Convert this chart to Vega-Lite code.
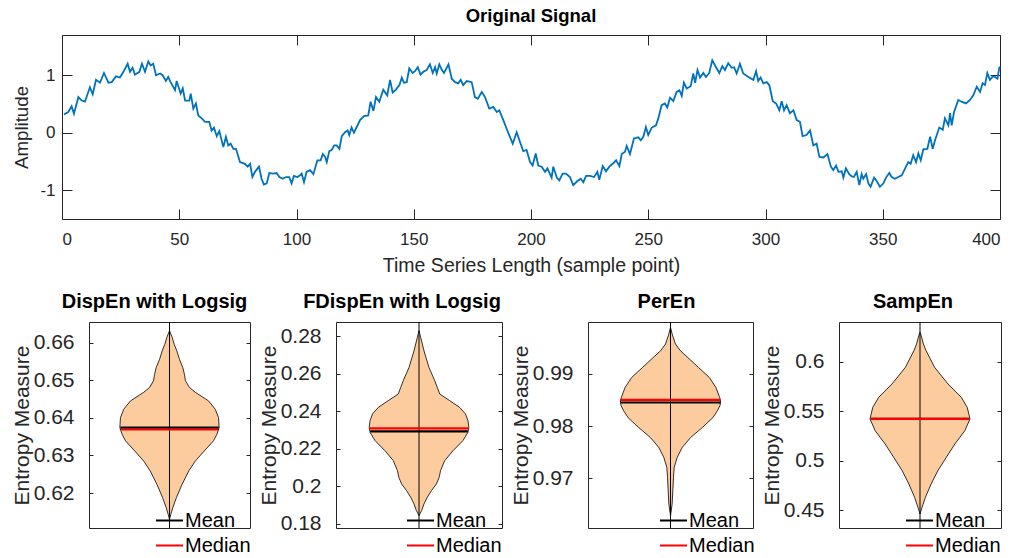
{
  "$schema": "https://vega.github.io/schema/vega-lite/v6.json",
  "padding": {"left": 10, "top": 6, "right": 0, "bottom": 0},
  "config": {
    "font": "Liberation Sans",
    "view": {"stroke": "#262626", "strokeWidth": 1},
    "axis": {"grid": false, "domain": false, "labelColor": "#262626", "tickColor": "#262626", "titleColor": "#262626", "titleFontWeight": "normal", "labelFont": "Liberation Sans", "titleFont": "Liberation Sans"},
    "title": {"fontWeight": "bold", "color": "black", "font": "Liberation Sans"},
    "legend": {"orient": "none", "title": null, "symbolType": "stroke", "symbolSize": 729, "symbolStrokeWidth": 2, "labelFontSize": 20, "labelFont": "Liberation Sans", "labelColor": "black", "labelOffset": 1, "rowPadding": 0, "padding": 0, "legendY": 184}
  },
  "concat": [
    {
      "width": 938,
      "height": 184,
      "title": {"text": "Original Signal", "fontSize": 18.5, "offset": 9},
      "data": {"name": "signal"},
      "layer": [
        {
          "mark": {"type": "line", "color": "#0072BD", "strokeWidth": 1.8},
          "encoding": {
            "x": {"field": "t", "type": "quantitative", "scale": {"domain": [0, 400], "nice": false, "zero": false},
                  "axis": {"orient": "bottom", "values": [0, 50, 100, 150, 200, 250, 300, 350, 400], "tickSize": -10, "labelPadding": 22, "labelFontSize": 17, "title": "Time Series Length (sample point)", "titleFontSize": 19.5, "titlePadding": 9}},
            "y": {"field": "v", "type": "quantitative", "scale": {"domain": [-1.5, 1.7], "nice": false, "zero": false},
                  "axis": {"orient": "left", "values": [-1, 0, 1], "labelExpr": "datum.value + ''", "tickSize": -10, "labelPadding": 17, "labelFontSize": 17, "title": "Amplitude", "titleFontSize": 18.7, "titlePadding": 8}}
          }
        },
        {
          "mark": {"type": "line", "opacity": 0},
          "encoding": {
            "x": {"field": "t", "type": "quantitative", "axis": {"orient": "top", "values": [0, 50, 100, 150, 200, 250, 300, 350, 400], "tickSize": -10, "labels": false, "title": null}},
            "y": {"field": "v", "type": "quantitative", "axis": {"orient": "right", "values": [-1, 0, 1], "tickSize": -10, "labels": false, "title": null}}
          }
        }
      ],
      "resolve": {"axis": {"x": "independent", "y": "independent"}}
    },
    {
      "hconcat": [
        {"width": 1, "height": 1, "view": {"stroke": null}, "data": {"values": []}, "mark": "point"},
        {
          "hconcat": [
            {
              "width": 161, "height": 206,
              "title": {"text": "DispEn with Logsig", "fontSize": 20, "offset": 10, "dx": -15},
              "layer": [
                {"data": {"name": "p1v"}, "mark": {"type": "area", "orient": "horizontal", "fill": "#fdcc9e", "stroke": "black", "strokeWidth": 0.8},
                 "encoding": {
                   "y": {"field": "y", "type": "quantitative", "scale": {"domain": [0.6107, 0.6655], "nice": false, "zero": false},
                         "axis": {"orient": "left", "values": [0.62, 0.63, 0.64, 0.65, 0.66], "labelExpr": "datum.value + ''", "tickSize": -4, "labelPadding": 19, "labelFontSize": 21, "title": "Entropy Measure", "titleFontSize": 21, "titlePadding": 1}},
                   "x": {"field": "lo", "type": "quantitative", "scale": {"domain": [-1, 1]}, "axis": null},
                   "x2": {"field": "hi"}}},
                {"data": {"name": "p1w"}, "mark": {"type": "rule", "color": "black", "strokeWidth": 1},
                 "encoding": {
                   "x": {"datum": 0, "type": "quantitative", "axis": null},
                   "y": {"field": "y", "type": "quantitative", "axis": {"orient": "right", "values": [0.62, 0.63, 0.64, 0.65, 0.66], "tickSize": -4, "labels": false, "title": null}},
                   "y2": {"field": "y2"}}},
                {"data": {"name": "p1s"}, "mark": {"type": "rule", "strokeWidth": 2.2},
                 "encoding": {
                   "y": {"field": "value", "type": "quantitative", "axis": null},
                   "x": {"field": "lo", "type": "quantitative", "axis": null},
                   "x2": {"field": "hi"},
                   "stroke": {"field": "stat", "type": "nominal", "scale": {"domain": ["Mean", "Median"], "range": ["black", "red"]}, "legend": {"legendX": 66}}}}
              ],
              "resolve": {"axis": {"y": "independent"}}
            },
            {
              "width": 166, "height": 206,
              "title": {"text": "FDispEn with Logsig", "fontSize": 20, "offset": 10, "dx": -17},
              "layer": [
                {"data": {"name": "p2v"}, "mark": {"type": "area", "orient": "horizontal", "fill": "#fdcc9e", "stroke": "black", "strokeWidth": 0.8},
                 "encoding": {
                   "y": {"field": "y", "type": "quantitative", "scale": {"domain": [0.1777, 0.2875], "nice": false, "zero": false},
                         "axis": {"orient": "left", "values": [0.18, 0.2, 0.22, 0.24, 0.26, 0.28], "labelExpr": "datum.value + ''", "tickSize": -4, "labelPadding": 19, "labelFontSize": 21, "title": "Entropy Measure", "titleFontSize": 21, "titlePadding": 1}},
                   "x": {"field": "lo", "type": "quantitative", "scale": {"domain": [-1, 1]}, "axis": null},
                   "x2": {"field": "hi"}}},
                {"data": {"name": "p2w"}, "mark": {"type": "rule", "color": "black", "strokeWidth": 1},
                 "encoding": {
                   "x": {"datum": 0, "type": "quantitative", "axis": null},
                   "y": {"field": "y", "type": "quantitative", "axis": {"orient": "right", "values": [0.18, 0.2, 0.22, 0.24, 0.26, 0.28], "tickSize": -4, "labels": false, "title": null}},
                   "y2": {"field": "y2"}}},
                {"data": {"name": "p2s"}, "mark": {"type": "rule", "strokeWidth": 2.2},
                 "encoding": {
                   "y": {"field": "value", "type": "quantitative", "axis": null},
                   "x": {"field": "lo", "type": "quantitative", "axis": null},
                   "x2": {"field": "hi"},
                   "stroke": {"field": "stat", "type": "nominal", "scale": {"domain": ["Mean", "Median"], "range": ["black", "red"]}, "legend": {"legendX": 70}}}}
              ],
              "resolve": {"axis": {"y": "independent"}}
            },
            {
              "width": 165, "height": 206,
              "title": {"text": "PerEn", "fontSize": 20, "offset": 10, "dx": -4},
              "layer": [
                {"data": {"name": "p3v"}, "mark": {"type": "area", "orient": "horizontal", "fill": "#fdcc9e", "stroke": "black", "strokeWidth": 0.8},
                 "encoding": {
                   "y": {"field": "y", "type": "quantitative", "scale": {"domain": [0.9605, 0.9999], "nice": false, "zero": false},
                         "axis": {"orient": "left", "values": [0.97, 0.98, 0.99], "labelExpr": "datum.value + ''", "tickSize": -4, "labelPadding": 19, "labelFontSize": 21, "title": "Entropy Measure", "titleFontSize": 21, "titlePadding": 1}},
                   "x": {"field": "lo", "type": "quantitative", "scale": {"domain": [-1, 1]}, "axis": null},
                   "x2": {"field": "hi"}}},
                {"data": {"name": "p3w"}, "mark": {"type": "rule", "color": "black", "strokeWidth": 1},
                 "encoding": {
                   "x": {"datum": 0, "type": "quantitative", "axis": null},
                   "y": {"field": "y", "type": "quantitative", "axis": {"orient": "right", "values": [0.97, 0.98, 0.99], "tickSize": -4, "labels": false, "title": null}},
                   "y2": {"field": "y2"}}},
                {"data": {"name": "p3s"}, "mark": {"type": "rule", "strokeWidth": 2.2},
                 "encoding": {
                   "y": {"field": "value", "type": "quantitative", "axis": null},
                   "x": {"field": "lo", "type": "quantitative", "axis": null},
                   "x2": {"field": "hi"},
                   "stroke": {"field": "stat", "type": "nominal", "scale": {"domain": ["Mean", "Median"], "range": ["black", "red"]}, "legend": {"legendX": 71}}}}
              ],
              "resolve": {"axis": {"y": "independent"}}
            },
            {
              "width": 162, "height": 206,
              "title": {"text": "SampEn", "fontSize": 20, "offset": 10, "dx": -7},
              "layer": [
                {"data": {"name": "p4v"}, "mark": {"type": "area", "orient": "horizontal", "fill": "#fdcc9e", "stroke": "black", "strokeWidth": 0.8},
                 "encoding": {
                   "y": {"field": "y", "type": "quantitative", "scale": {"domain": [0.4318, 0.6405], "nice": false, "zero": false},
                         "axis": {"orient": "left", "values": [0.45, 0.5, 0.55, 0.6], "labelExpr": "datum.value + ''", "tickSize": -4, "labelPadding": 19, "labelFontSize": 21, "title": "Entropy Measure", "titleFontSize": 21, "titlePadding": 1}},
                   "x": {"field": "lo", "type": "quantitative", "scale": {"domain": [-1, 1]}, "axis": null},
                   "x2": {"field": "hi"}}},
                {"data": {"name": "p4w"}, "mark": {"type": "rule", "color": "black", "strokeWidth": 1},
                 "encoding": {
                   "x": {"datum": 0, "type": "quantitative", "axis": null},
                   "y": {"field": "y", "type": "quantitative", "axis": {"orient": "right", "values": [0.45, 0.5, 0.55, 0.6], "tickSize": -4, "labels": false, "title": null}},
                   "y2": {"field": "y2"}}},
                {"data": {"name": "p4s"}, "mark": {"type": "rule", "strokeWidth": 2.2},
                 "encoding": {
                   "y": {"field": "value", "type": "quantitative", "axis": null},
                   "x": {"field": "lo", "type": "quantitative", "axis": null},
                   "x2": {"field": "hi"},
                   "stroke": {"field": "stat", "type": "nominal", "scale": {"domain": ["Mean", "Median"], "range": ["black", "red"]}, "legend": {"legendX": 66}}}}
              ],
              "resolve": {"axis": {"y": "independent"}}
            }
          ],
          "spacing": 86,
          "bounds": "flush",
          "resolve": {"scale": {"stroke": "independent", "x": "independent", "y": "independent"}, "legend": {"stroke": "independent"}}
        }
      ],
      "spacing": 26,
      "bounds": "flush",
      "resolve": {"scale": {"stroke": "independent", "x": "independent", "y": "independent"}, "legend": {"stroke": "independent"}}
    }
  ],
  "columns": 1,
  "align": "none",
  "spacing": 16,
  "datasets": {
    "signal": [
      {"t":0.85,"v":0.32},{"t":2.7,"v":0.36},{"t":4.1,"v":0.46},{"t":5.1,"v":0.33},{"t":7.0,"v":0.62},{"t":8.4,"v":0.56},{"t":9.8,"v":0.54},{"t":11.9,"v":0.79},{"t":13.1,"v":0.67},{"t":14.5,"v":0.92},{"t":16.2,"v":0.87},{"t":17.9,"v":1.04},{"t":19.8,"v":0.87},{"t":21.2,"v":0.88},{"t":23.0,"v":0.98},{"t":24.7,"v":0.96},{"t":26.2,"v":1.06},{"t":28.0,"v":1.2},{"t":29.0,"v":1.06},{"t":30.1,"v":1.13},{"t":31.1,"v":1.01},{"t":33.0,"v":1.06},{"t":34.1,"v":1.2},{"t":35.4,"v":1.06},{"t":36.8,"v":1.24},{"t":37.8,"v":1.17},{"t":38.9,"v":1.2},{"t":40.1,"v":1.0},{"t":41.8,"v":1.03},{"t":42.9,"v":1.0},{"t":44.3,"v":0.9},{"t":45.3,"v":0.97},{"t":46.3,"v":0.88},{"t":48.2,"v":0.74},{"t":48.9,"v":0.9},{"t":50.6,"v":0.68},{"t":51.5,"v":0.77},{"t":52.5,"v":0.56},{"t":54.3,"v":0.56},{"t":54.9,"v":0.68},{"t":56.0,"v":0.42},{"t":57.1,"v":0.51},{"t":58.1,"v":0.3},{"t":59.6,"v":0.25},{"t":61.0,"v":0.19},{"t":62.8,"v":0.19},{"t":63.8,"v":0.04},{"t":64.8,"v":0.09},{"t":66.0,"v":-0.06},{"t":67.1,"v":0.03},{"t":68.8,"v":-0.25},{"t":69.9,"v":-0.07},{"t":70.9,"v":-0.22},{"t":71.9,"v":-0.19},{"t":73.1,"v":-0.28},{"t":74.2,"v":-0.28},{"t":75.9,"v":-0.51},{"t":78.0,"v":-0.54},{"t":79.2,"v":-0.59},{"t":80.2,"v":-0.54},{"t":81.2,"v":-0.77},{"t":82.3,"v":-0.68},{"t":84.0,"v":-0.59},{"t":85.1,"v":-0.8},{"t":86.1,"v":-0.9},{"t":87.3,"v":-0.88},{"t":88.4,"v":-0.7},{"t":90.1,"v":-0.71},{"t":91.5,"v":-0.7},{"t":92.7,"v":-0.77},{"t":94.1,"v":-0.8},{"t":95.5,"v":-0.77},{"t":96.9,"v":-0.77},
      {"t":97.9,"v":-0.88},{"t":98.9,"v":-0.75},{"t":100.4,"v":-0.77},{"t":101.5,"v":-0.74},{"t":102.2,"v":-0.71},{"t":103.2,"v":-0.86},{"t":104.3,"v":-0.68},{"t":105.8,"v":-0.65},{"t":107.2,"v":-0.72},{"t":108.9,"v":-0.48},{"t":110.3,"v":-0.48},{"t":111.2,"v":-0.37},{"t":112.2,"v":-0.42},{"t":112.9,"v":-0.51},{"t":114.0,"v":-0.32},{"t":115.0,"v":-0.30},{"t":116.1,"v":-0.22},{"t":117.1,"v":-0.22},{"t":118.3,"v":-0.28},{"t":119.3,"v":-0.06},{"t":120.7,"v":0.01},{"t":121.8,"v":0.04},{"t":122.5,"v":-0.04},{"t":123.5,"v":0.09},{"t":124.5,"v":0.0},{"t":125.7,"v":0.10},{"t":127.1,"v":0.22},{"t":128.8,"v":0.29},{"t":130.6,"v":0.30},{"t":131.6,"v":0.54},{"t":132.8,"v":0.38},{"t":133.9,"v":0.62},{"t":135.3,"v":0.54},{"t":137.0,"v":0.75},{"t":138.7,"v":0.65},{"t":139.9,"v":0.92},{"t":141.0,"v":0.70},{"t":142.4,"v":0.75},{"t":143.9,"v":0.83},{"t":144.9,"v":0.96},{"t":145.8,"v":0.87},{"t":147.0,"v":0.88},{"t":148.1,"v":1.12},{"t":149.5,"v":1.04},{"t":150.5,"v":1.07},{"t":151.7,"v":1.14},{"t":152.9,"v":1.01},{"t":154.1,"v":1.06},{"t":155.5,"v":1.09},{"t":156.9,"v":1.19},{"t":158.1,"v":1.04},{"t":159.1,"v":1.14},{"t":159.8,"v":1.03},{"t":160.9,"v":1.19},{"t":161.9,"v":1.1},{"t":162.9,"v":1.04},{"t":164.8,"v":1.19},{"t":166.2,"v":0.94},{"t":167.6,"v":0.88},{"t":169.0,"v":0.86},{"t":170.0,"v":0.92},{"t":171.1,"v":0.83},{"t":172.6,"v":0.90},{"t":174.7,"v":0.88},{"t":176.1,"v":0.62},{"t":177.3,"v":0.59},{"t":179.0,"v":0.71},{"t":180.4,"v":0.62},{"t":182.2,"v":0.42},{"t":183.9,"v":0.45},{"t":185.4,"v":0.36},{"t":186.5,"v":0.39},{"t":188.2,"v":0.22},{"t":189.9,"v":0.04},{"t":192.2,"v":-0.19},{"t":193.9,"v":0.01},{"t":195.3,"v":-0.16},{"t":196.7,"v":-0.32},{"t":198.1,"v":-0.30},
      {"t":199.6,"v":-0.51},{"t":200.7,"v":-0.57},{"t":202.0,"v":-0.36},{"t":203.1,"v":-0.57},{"t":204.5,"v":-0.59},{"t":206.0,"v":-0.68},{"t":207.0,"v":-0.62},{"t":208.8,"v":-0.78},{"t":209.5,"v":-0.59},{"t":211.0,"v":-0.78},{"t":212.1,"v":-0.83},{"t":213.5,"v":-0.71},{"t":214.9,"v":-0.71},{"t":216.6,"v":-0.77},{"t":218.0,"v":-0.91},{"t":219.8,"v":-0.84},{"t":221.2,"v":-0.8},{"t":222.3,"v":-0.86},{"t":223.5,"v":-0.75},{"t":225.2,"v":-0.75},{"t":226.9,"v":-0.77},{"t":228.3,"v":-0.68},{"t":229.1,"v":-0.82},{"t":230.6,"v":-0.58},{"t":232.0,"v":-0.67},{"t":233.4,"v":-0.59},{"t":235.1,"v":-0.53},{"t":236.3,"v":-0.48},{"t":237.7,"v":-0.58},{"t":238.7,"v":-0.37},{"t":240.1,"v":-0.33},{"t":240.8,"v":-0.23},{"t":242.2,"v":-0.37},{"t":243.9,"v":-0.10},{"t":245.8,"v":-0.08},{"t":246.8,"v":-0.13},{"t":247.9,"v":-0.07},{"t":249.0,"v":0.10},{"t":250.0,"v":-0.04},{"t":251.5,"v":0.09},{"t":253.3,"v":0.13},{"t":254.3,"v":0.25},{"t":255.7,"v":0.48},{"t":257.1,"v":0.51},{"t":258.1,"v":0.44},{"t":259.3,"v":0.61},{"t":260.7,"v":0.55},{"t":262.1,"v":0.71},{"t":263.3,"v":0.74},{"t":264.3,"v":0.64},{"t":265.2,"v":0.87},{"t":266.4,"v":0.77},{"t":268.1,"v":0.81},{"t":269.2,"v":1.03},{"t":270.0,"v":0.87},{"t":271.0,"v":1.09},{"t":272.1,"v":0.96},{"t":273.5,"v":1.04},{"t":274.6,"v":0.97},{"t":276.0,"v":1.04},{"t":277.3,"v":1.26},{"t":278.9,"v":1.14},{"t":280.3,"v":1.04},{"t":281.6,"v":1.16},{"t":282.7,"v":1.09},{"t":284.1,"v":1.21},{"t":285.6,"v":1.13},{"t":286.6,"v":1.14},{"t":287.7,"v":1.03},{"t":289.1,"v":1.20},{"t":290.5,"v":1.03},{"t":292.7,"v":0.97},
      {"t":294.8,"v":0.92},{"t":296.0,"v":1.07},{"t":296.9,"v":0.90},{"t":297.9,"v":0.96},{"t":299.1,"v":0.86},{"t":300.5,"v":0.88},{"t":301.6,"v":0.83},{"t":303.1,"v":0.55},{"t":304.5,"v":0.51},{"t":305.9,"v":0.39},{"t":306.9,"v":0.55},{"t":307.9,"v":0.39},{"t":309.0,"v":0.48},{"t":310.4,"v":0.34},{"t":311.9,"v":0.39},{"t":313.3,"v":0.22},{"t":314.7,"v":0.19},{"t":315.8,"v":-0.06},{"t":317.5,"v":-0.04},{"t":319.0,"v":0.04},{"t":320.4,"v":-0.22},{"t":321.8,"v":-0.19},{"t":323.0,"v":-0.42},{"t":324.7,"v":-0.43},{"t":326.4,"v":-0.37},{"t":327.9,"v":-0.59},{"t":328.9,"v":-0.65},{"t":330.1,"v":-0.57},{"t":331.1,"v":-0.68},{"t":332.5,"v":-0.67},{"t":333.2,"v":-0.78},{"t":334.3,"v":-0.62},{"t":335.7,"v":-0.72},{"t":336.8,"v":-0.76},{"t":337.7,"v":-0.77},{"t":338.9,"v":-0.68},{"t":340.0,"v":-0.91},{"t":341.0,"v":-0.72},{"t":341.7,"v":-0.80},{"t":342.9,"v":-0.72},{"t":343.9,"v":-0.88},{"t":344.8,"v":-0.94},{"t":346.3,"v":-0.78},{"t":347.4,"v":-0.84},{"t":348.8,"v":-0.94},{"t":350.3,"v":-0.88},{"t":351.4,"v":-0.78},{"t":352.8,"v":-0.70},{"t":353.8,"v":-0.77},{"t":355.2,"v":-0.80},{"t":356.6,"v":-0.77},{"t":358.1,"v":-0.74},{"t":359.9,"v":-0.59},{"t":360.9,"v":-0.51},{"t":361.9,"v":-0.54},{"t":363.0,"v":-0.39},{"t":364.2,"v":-0.51},{"t":365.2,"v":-0.36},{"t":366.2,"v":-0.48},{"t":367.3,"v":-0.29},{"t":369.0,"v":-0.28},{"t":370.2,"v":-0.07},{"t":371.3,"v":-0.28},{"t":372.3,"v":-0.13},{"t":374.1,"v":0.09},{"t":375.6,"v":0.05},{"t":376.5,"v":0.25},{"t":378.0,"v":0.13},{"t":378.7,"v":0.34},{"t":379.4,"v":0.13},{"t":380.4,"v":0.36},{"t":382.2,"v":0.57},{"t":383.6,"v":0.54},{"t":385.5,"v":0.51},{"t":387.2,"v":0.57},{"t":388.6,"v":0.65},{"t":390.1,"v":0.80},{"t":391.5,"v":0.71},{"t":392.6,"v":0.86},{"t":393.6,"v":0.83},{"t":394.6,"v":1.04},{"t":395.7,"v":0.92},{"t":396.9,"v":0.98},{"t":397.9,"v":0.97},{"t":398.9,"v":0.94},{"t":399.7,"v":1.13},{"t":400,"v":1.15}
    ],
    "p1v": [
      {"y":0.6632,"lo":0,"hi":0},{"y":0.6614,"lo":-0.033,"hi":0.033},{"y":0.6596,"lo":-0.058,"hi":0.058},{"y":0.6579,"lo":-0.09,"hi":0.09},{"y":0.6556,"lo":-0.123,"hi":0.123},{"y":0.6534,"lo":-0.165,"hi":0.165},{"y":0.6516,"lo":-0.185,"hi":0.185},{"y":0.6499,"lo":-0.198,"hi":0.198},{"y":0.6481,"lo":-0.247,"hi":0.247},{"y":0.6468,"lo":-0.32,"hi":0.32},{"y":0.6445,"lo":-0.486,"hi":0.486},{"y":0.6423,"lo":-0.568,"hi":0.568},{"y":0.6401,"lo":-0.609,"hi":0.609},{"y":0.6374,"lo":-0.617,"hi":0.617},{"y":0.6356,"lo":-0.588,"hi":0.588},{"y":0.6339,"lo":-0.547,"hi":0.547},{"y":0.6312,"lo":-0.432,"hi":0.432},{"y":0.6285,"lo":-0.32,"hi":0.32},{"y":0.6259,"lo":-0.24,"hi":0.24},{"y":0.6223,"lo":-0.156,"hi":0.156},{"y":0.6188,"lo":-0.086,"hi":0.086},{"y":0.6161,"lo":-0.041,"hi":0.041},{"y":0.6143,"lo":-0.016,"hi":0.016},{"y":0.6130,"lo":0,"hi":0}
    ],
    "p1w": [{"y":0.6107,"y2":0.6655}],
    "p1s": [{"stat":"Mean","value":0.6374,"lo":-0.611,"hi":0.611},{"stat":"Median","value":0.6369,"lo":-0.603,"hi":0.603}],
    "p2v": [
      {"y":0.2829,"lo":0,"hi":0},{"y":0.2793,"lo":-0.02,"hi":0.02},{"y":0.2722,"lo":-0.06,"hi":0.06},{"y":0.2633,"lo":-0.12,"hi":0.12},{"y":0.2562,"lo":-0.19,"hi":0.19},{"y":0.2527,"lo":-0.22,"hi":0.22},{"y":0.2491,"lo":-0.25,"hi":0.25},{"y":0.2456,"lo":-0.37,"hi":0.37},{"y":0.2420,"lo":-0.49,"hi":0.49},{"y":0.2385,"lo":-0.56,"hi":0.56},{"y":0.2349,"lo":-0.59,"hi":0.59},{"y":0.2314,"lo":-0.60,"hi":0.60},{"y":0.2287,"lo":-0.59,"hi":0.59},{"y":0.2243,"lo":-0.53,"hi":0.53},{"y":0.2189,"lo":-0.41,"hi":0.41},{"y":0.2136,"lo":-0.31,"hi":0.31},{"y":0.2083,"lo":-0.26,"hi":0.26},{"y":0.2047,"lo":-0.243,"hi":0.243},{"y":0.2012,"lo":-0.21,"hi":0.21},{"y":0.1976,"lo":-0.15,"hi":0.15},{"y":0.1941,"lo":-0.10,"hi":0.10},{"y":0.1905,"lo":-0.06,"hi":0.06},{"y":0.1870,"lo":-0.032,"hi":0.032},{"y":0.1843,"lo":0,"hi":0}
    ],
    "p2w": [{"y":0.1777,"y2":0.2875}],
    "p2s": [{"stat":"Mean","value":0.2292,"lo":-0.588,"hi":0.588},{"stat":"Median","value":0.2308,"lo":-0.598,"hi":0.598}],
    "p3v": [
      {"y":0.9989,"lo":0,"hi":0},{"y":0.9976,"lo":-0.02,"hi":0.02},{"y":0.9957,"lo":-0.06,"hi":0.06},{"y":0.9944,"lo":-0.12,"hi":0.12},{"y":0.9931,"lo":-0.21,"hi":0.21},{"y":0.9912,"lo":-0.34,"hi":0.34},{"y":0.9893,"lo":-0.47,"hi":0.47},{"y":0.9874,"lo":-0.55,"hi":0.55},{"y":0.9855,"lo":-0.595,"hi":0.595},{"y":0.9848,"lo":-0.607,"hi":0.607},{"y":0.9839,"lo":-0.6,"hi":0.6},{"y":0.9829,"lo":-0.567,"hi":0.567},{"y":0.9816,"lo":-0.514,"hi":0.514},{"y":0.9797,"lo":-0.385,"hi":0.385},{"y":0.9778,"lo":-0.243,"hi":0.243},{"y":0.9759,"lo":-0.142,"hi":0.142},{"y":0.9740,"lo":-0.081,"hi":0.081},{"y":0.9721,"lo":-0.045,"hi":0.045},{"y":0.9702,"lo":-0.036,"hi":0.036},{"y":0.9676,"lo":-0.028,"hi":0.028},{"y":0.9651,"lo":-0.02,"hi":0.02},{"y":0.9628,"lo":0,"hi":0}
    ],
    "p3w": [{"y":0.9605,"y2":0.9999}],
    "p3s": [{"stat":"Mean","value":0.9845,"lo":-0.607,"hi":0.607},{"stat":"Median","value":0.9850,"lo":-0.607,"hi":0.607}],
    "p4v": [
      {"y":0.6301,"lo":0,"hi":0},{"y":0.6250,"lo":-0.021,"hi":0.021},{"y":0.6183,"lo":-0.042,"hi":0.042},{"y":0.6115,"lo":-0.075,"hi":0.075},{"y":0.5946,"lo":-0.18,"hi":0.18},{"y":0.5777,"lo":-0.346,"hi":0.346},{"y":0.5642,"lo":-0.51,"hi":0.51},{"y":0.5541,"lo":-0.583,"hi":0.583},{"y":0.5423,"lo":-0.617,"hi":0.617},{"y":0.5304,"lo":-0.554,"hi":0.554},{"y":0.5169,"lo":-0.43,"hi":0.43},{"y":0.5034,"lo":-0.325,"hi":0.325},{"y":0.4899,"lo":-0.22,"hi":0.22},{"y":0.4764,"lo":-0.1375,"hi":0.1375},{"y":0.4629,"lo":-0.067,"hi":0.067},{"y":0.4527,"lo":-0.025,"hi":0.025},{"y":0.4460,"lo":0,"hi":0}
    ],
    "p4w": [{"y":0.4318,"y2":0.6405}],
    "p4s": [{"stat":"Mean","value":0.5423,"lo":-0.608,"hi":0.608},{"stat":"Median","value":0.5423,"lo":-0.608,"hi":0.608}]
  }
}
